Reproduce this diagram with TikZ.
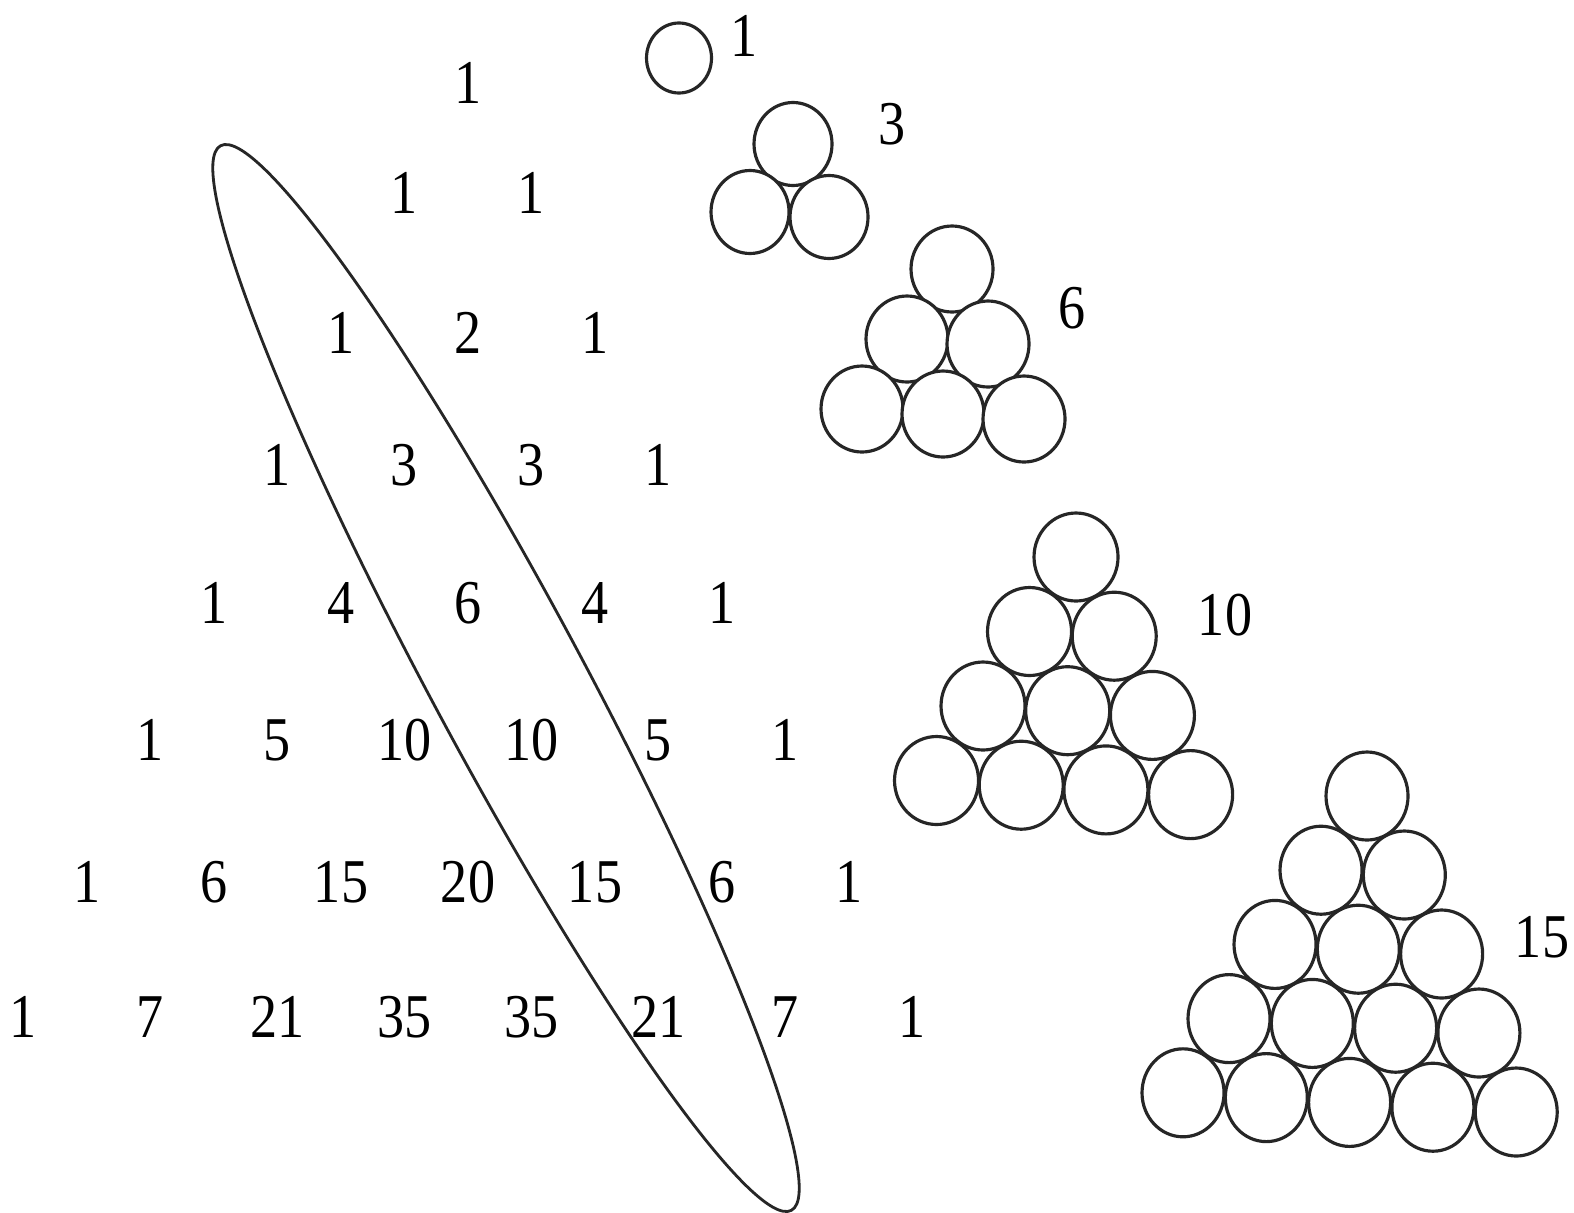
\documentclass[tikz,border=0pt]{standalone}
\usepackage{fontspec}
\setmainfont{Liberation Serif}
\begin{document}
\begin{tikzpicture}[x=0.01cm, y=-0.01cm,
  num/.style={inner sep=0pt, font=\fontsize{15.4pt}{18pt}\selectfont, yscale=1.15},
  ball/.style={draw=black!85, line width=0.9pt, fill=white},
  band/.style={draw=black!85, line width=0.8pt, fill=white}]
\useasboundingbox[fill=white] (0,0) rectangle (1574,1212);
% the diagonal of the triangle
\path[band, rotate around={-61.8:(506,678)}] (506,678) ellipse [x radius=604, y radius=76];
% Pascal's triangle
\foreach \n/\yy/\vals in {0/83/{1}, 1/193/{1,1}, 2/333/{1,2,1}, 3/465/{1,3,3,1},
    4/603/{1,4,6,4,1}, 5/740/{1,5,10,10,5,1}, 6/882/{1,6,15,20,15,6,1},
    7/1017/{1,7,21,35,35,21,7,1}}
  \foreach \v [count=\k from 0] in \vals
    \node[num] (p\n-\k) at ({468+(\k-\n/2)*127}, \yy) {\v};
% stacks of balls: top, row step, column step, last row, radii
\foreach \tx/\ty/\rdx/\rdy/\cdx/\cdy/\m/\ax/\ay in {
    679/58/0/0/0/0/0/32.5/35,
    793/144/-43/68/79/5/1/39/41.5,
    952/269/-45/70/81/5/2/41/43,
    1076/557/-46.5/74.5/84.7/4.7/3/42/44,
    1367/796/-46/74.2/83.3/4.8/4/41/44}
  \foreach \i in {0,...,\m}
    \foreach \j in {0,...,\i}
      \path[ball] ({\tx+\i*\rdx+\j*\cdx}, {\ty+\i*\rdy+\j*\cdy}) ellipse [x radius=\ax, y radius=\ay];
% counts
\node[num] (t1) at (744,36) {1};
\node[num] (t3) at (892,124) {3};
\node[num] (t6) at (1072,308) {6};
\node[num] (t10) at (1225,615) {10};
\node[num] (t15) at (1542,937) {15};
\end{tikzpicture}
\end{document}
